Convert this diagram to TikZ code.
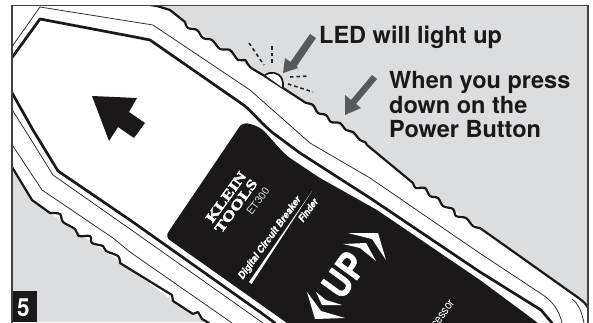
\documentclass[tikz,border=0pt]{standalone}
\usepackage{fontspec}
\setmainfont{TeX Gyre Heros}
\newfontfamily\kleinfont[FakeBold=2.5]{Liberation Serif Bold}
\newfontfamily\heavyfont[FakeBold=1]{TeX Gyre Heros Bold}
\definecolor{bggray}{HTML}{DCDDDE}
\definecolor{inkblack}{HTML}{1A1818}
\definecolor{framegray}{HTML}{414042}
\definecolor{arrowgray}{HTML}{58595B}
\tikzset{
  thickline/.style={line width=2.7pt,black!90,line join=round,line cap=round},
  outerline/.style={line width=2.2pt,black!90,line join=round,line cap=round},
  thinline/.style={line width=0.75pt,black!85},
  ray/.style={line width=1.6pt,black!85,dash pattern=on 3.5pt off 3pt},
  pointer/.style={fill=arrowgray,draw=none},
  label/.style={font=\fontsize{23.5}{24.5}\selectfont\bfseries,text=inkblack,inner sep=0pt,align=left},
  paneltext/.style={text=white,inner sep=0pt,rotate=54},
}
\begin{document}
\begin{tikzpicture}[x=1pt,y=-1pt]
\useasboundingbox (0,0) rectangle (593,322);
\begin{scope}
\clip (12,5.5) rectangle (588,322);
\fill[bggray] (12,5) rectangle (588,322);
% white body
\fill[white] (12,5) -- (157,5) -- (170,10) -- (185,22)
  -- (250,68) -- (283,88) -- (367,145) -- (413,183) -- (480,228) -- (573,294)
  .. controls (583,301) and (587,304) .. (588,309) -- (588,322)
  -- (207,322) -- (173,301) -- (118,260) -- (50,213) -- (32,200) -- (12,167) -- cycle;
% upper outer edge
\draw[outerline] (150,5) -- (157,6) -- (170,10) -- (185,22)
  plot[smooth,tension=0.55] coordinates {(185,22) (188,28) (197,30) (203,38) (212,40) (220,49) (230,50) (238,60) (245,60) (250,67) (263,75)};
\draw[outerline] (263,75) -- (283,88) -- (306,103);
\draw[outerline] plot[smooth,tension=0.55] coordinates {(306,103) (313,105) (318,113) (326,115) (331,122) (340,123) (346,130) (353,132) (360,140) (365,142) (367,145)};
\draw[outerline] (367,145) -- (413,183);
\draw[outerline] plot[smooth,tension=0.55] coordinates {(413,183) (416,188) (425,188) (430,196) (438,198) (443,206) (453,209) (456,216) (466,218) (473,226) (480,228)};
\draw[outerline] (480,228) -- (573,294) .. controls (583,301) and (587,304) .. (589,310);
% lower outer edge
\draw[outerline] (12,167) -- (32,200) -- (50,213);
\draw[outerline] plot[smooth,tension=0.55] coordinates {(50,213) (60,214) (63,222) (75,229) (79,236) (90,236) (92,243) (103,246) (106,251) (118,256) (120,263)};
\draw[outerline] (120,263) -- (172,295) -- (173,301) -- (193,314) -- (198,312) -- (202,319) -- (209,323);
% thin inner lines
\draw[thinline] (11,48) -- (40,7) -- (153,25) -- (250,90) -- (310,143) -- (370,178) -- (478,252)
  -- (543,295) .. controls (553,302) and (559,310) .. (562,323);
\draw[thinline] (572,299) .. controls (578,303) and (582,312) .. (584,323);
\draw[thinline] (11,108) -- (25,130) -- (53,175) -- (130,229) -- (263,323);
\draw[thinline] (11,143) -- (42,190) -- (113,238) -- (130,252) -- (232,323);
% thick inner line
\draw[thickline] (11,59) -- (40,19) -- (135,37) -- (150,40) -- (245,106)
  .. controls (255,115) and (262,124) .. (273,133) -- (300,153) -- (370,198) -- (480,272) -- (541,310) -- (552,323);
\draw[thickline] (11,91) -- (33,130) -- (58,171) -- (130,220) -- (260,312) -- (275,323);
% panel
\fill[inkblack] (240,126) .. controls (243,123) and (247,123) .. (250,124)
  .. controls (258,126) and (262,129) .. (265,132)
  .. controls (275,143) and (282,152) .. (290,158) -- (320,178) -- (377,210) -- (480,280) -- (538,323) -- (287,323) -- (171,241)
  .. controls (167,239) and (166,235) .. (169,231) -- cycle;
% big arrow
\fill[inkblack] (92,96) -- (137,98) -- (129,112) -- (145,123) -- (134,138) -- (118,127) -- (109,141) -- cycle;
% LED dome
\draw[outerline,line width=1.7pt,fill=white] (265,75) .. controls (270,71) and (279,72) .. (282,79) .. controls (283,82) and (283.5,85) .. (283,88);
% rays
\draw[ray] (249,43) -- (264,65);
\draw[ray] (272,46) -- (272,65);
\draw[ray] (290,77) -- (309,76);
\draw[ray] (288,84) -- (313,92);
% pointers
\fill[pointer] (283,73) -- (285,58) -- (290.5,62) -- (310,34) -- (316,38) -- (296.5,66.5) -- (298,68) -- cycle;
\fill[pointer] (345,115) -- (345,95) -- (351,100) -- (372,75) -- (377,79) -- (356,104) -- (361,108) -- cycle;
% panel markings
\node[paneltext,font=\kleinfont\fontsize{14}{14}\selectfont] (klein) at (226,197) {\scalebox{1.3}[1]{KLEIN}};
\node[paneltext,font=\kleinfont\fontsize{14}{14}\selectfont] (tools) at (236,206) {\scalebox{1.3}[1]{TOOLS}};
\node[paneltext,font=\fontsize{10.5}{10.5}\selectfont,text=white!85!black] (model) at (258,201) {ET300};
\node[paneltext,font=\heavyfont\fontsize{10}{10}\selectfont\itshape] (digital) at (270,238) {\scalebox{.95}[1]{Digital Circuit Breaker}};
\node[paneltext,font=\heavyfont\fontsize{10}{10}\selectfont\itshape] (finder) at (308,210) {\scalebox{.85}[1]{Finder}};
\fill[white] (249,282) -- (251.5,284) -- (312,191) -- cycle;
\node[paneltext,font=\heavyfont\fontsize{38}{38}\selectfont] (up) at (344,275) {\scalebox{.85}[1]{UP}};
\fill[white] (348,233) -- (378,233) -- (386,260) -- (372,239) -- cycle;
\fill[white] (343,244) -- (366,243) -- (376,261) -- (360,248) -- cycle;
\fill[white] (307,292) -- (315,319) -- (345,318) -- (321,311) -- cycle;
\fill[white] (316,292) -- (322,305) -- (342,305) -- (326,300) -- cycle;
\node[paneltext,font=\fontsize{12.5}{12.5}\selectfont,anchor=base east] (proc) at (455,303) {\scalebox{.85}[1]{Processor}};
% number
\fill[framegray!40!black] (11,291) rectangle (37,322);
\node[font=\fontsize{25}{25}\selectfont\bfseries,text=white,inner sep=0pt] (num) at (23.5,308) {\scalebox{.9}[1]{5}};
\end{scope}
\draw[framegray,line width=1.7pt] (12,322.5) -- (12,5.5) -- (588,5.5) -- (588,322.5);
\node[label,anchor=base west] (led) at (319,43) {LED will light up};
\node[label,anchor=west] (press) at (389,105) {When you press\\down on the\\Power Button};
\end{tikzpicture}
\end{document}
